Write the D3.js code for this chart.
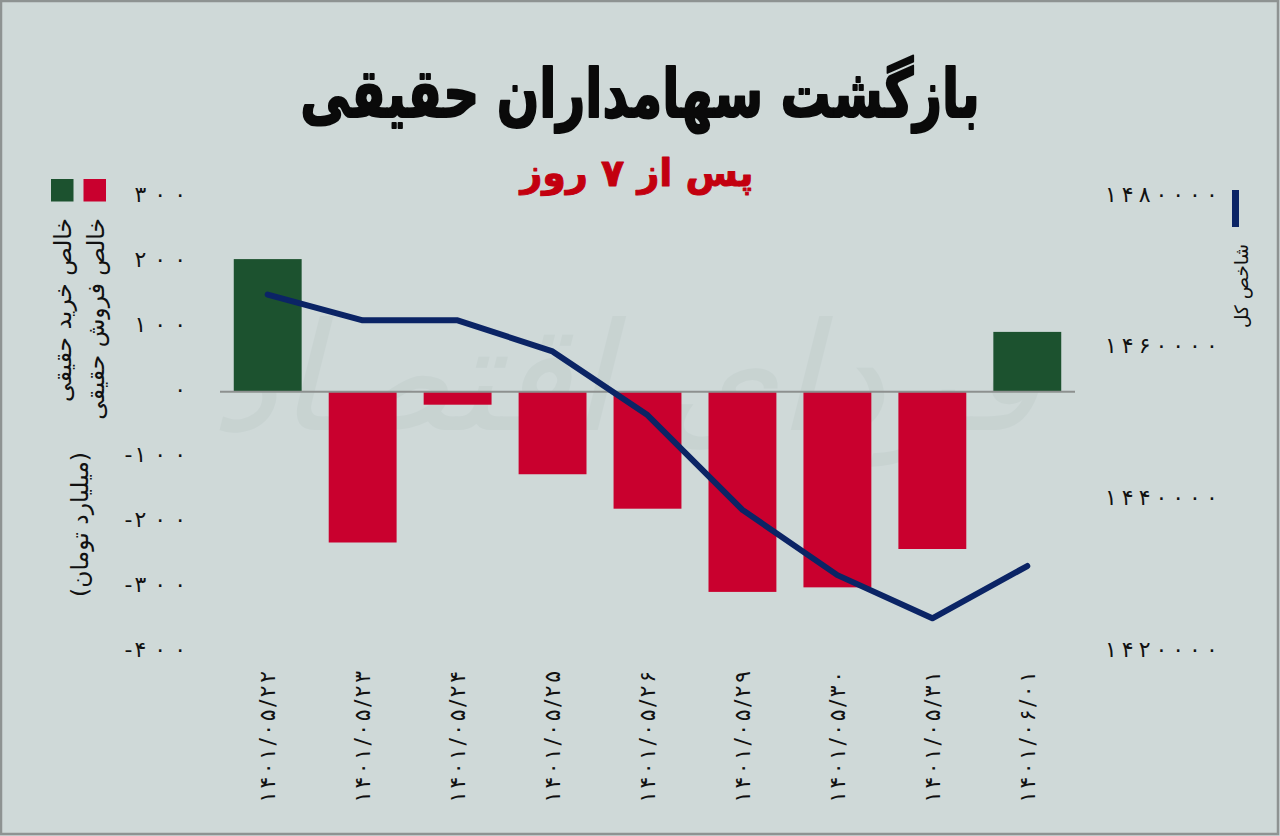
<!DOCTYPE html>
<html>
<head>
<meta charset="utf-8">
<script src="https://cdn.jsdelivr.net/npm/d3@7/dist/d3.min.js"></script>
<style>
  html, body { margin: 0; padding: 0; background: #cfd9d8; }
  svg { display: block; }
  text { font-family: "DejaVu Sans", "Noto Sans", sans-serif; }
</style>
</head>
<body>
<svg id="chart" width="1280" height="836"></svg>
<script>
// ---- data ----
const categories = ["۱۴۰۱/۰۵/۲۲","۱۴۰۱/۰۵/۲۳","۱۴۰۱/۰۵/۲۴","۱۴۰۱/۰۵/۲۵","۱۴۰۱/۰۵/۲۶","۱۴۰۱/۰۵/۲۹","۱۴۰۱/۰۵/۳۰","۱۴۰۱/۰۵/۳۱","۱۴۰۱/۰۶/۰۱"];
const netFlow = [204, -232, -20, -127, -180, -308, -301, -242, 92];            // billion toman
const indexValues = [1467100, 1463700, 1463700, 1459600, 1451200, 1438700, 1430100, 1424400, 1431300];
const leftTicks = [300, 200, 100, 0, -100, -200, -300, -400];
const rightTicks = [1480000, 1460000, 1440000, 1420000];
const titleText = "بازگشت سهامداران حقیقی";
const subtitleText = "پس از ۷ روز";
const legendBuy = "خالص خرید حقیقی";
const legendSell = "خالص فروش حقیقی";
const unitText = "(میلیارد تومان)";
const indexLabel = "شاخص کل";
const watermark = "فردای اقتصاد";

const fa = s => String(s).replace(/[0-9]/g, d => "۰۱۲۳۴۵۶۷۸۹"[+d]);

const W = 1280, H = 836;
const svg = d3.select("#chart");

// widen character spacing (letter-spacing is ignored for Arabic-script runs)
function spread(sel, gap) {
  sel.each(function () {
    const n = this.textContent.length;
    if (n < 2) return;
    const len = this.getComputedTextLength();
    d3.select(this).attr("textLength", len + (n - 1) * gap).attr("lengthAdjust", "spacing");
  });
}
// per-character offsets: tight after a minus sign, wide between digits
function spreadDx(sel, gap, minusGap) {
  sel.each(function () {
    const chars = Array.from(this.textContent);
    const dx = chars.map((c, i) => i === 0 ? 0 : (chars[i - 1] === "-" ? minusGap : gap));
    d3.select(this).attr("dx", dx.join(" "));
  });
}

// background + frame
svg.append("rect").attr("x", 0).attr("y", 0).attr("width", W).attr("height", H).attr("fill", "#cfd9d8");
svg.append("rect").attr("x", 1).attr("y", 1).attr("width", W - 3).attr("height", H - 3)
  .attr("fill", "none").attr("stroke", "#8e9392").attr("stroke-width", 2.5);

// watermark
svg.append("text").attr("x", 625).attr("y", 430).attr("text-anchor", "middle")
  .attr("font-size", 150).attr("fill", "#a9bab6").attr("opacity", 0.18)
  .attr("font-style", "italic").text(watermark);

// scales
const x = d3.scaleBand().domain(categories).range([220, 1075]).paddingInner(0.285).paddingOuter(0.145);
const yL = d3.scaleLinear().domain([-400, 300]).range([651.7, 196.7]);
const yR = d3.scaleLinear().domain([1420000, 1480000]).range([651.7, 196.7]);

// titles
svg.append("text").attr("transform", "translate(640,117) scale(1,1.35)").attr("text-anchor", "middle")
  .attr("font-size", 50).attr("font-weight", "bold").attr("fill", "#0a0a0a")
  .attr("stroke", "#0a0a0a").attr("stroke-width", 1.6).attr("stroke-linejoin", "round").text(titleText);
svg.append("text").attr("x", 637).attr("y", 186).attr("text-anchor", "middle")
  .attr("font-size", 38).attr("font-weight", "bold").attr("fill", "#c3000f")
  .attr("stroke", "#c3000f").attr("stroke-width", 1).attr("stroke-linejoin", "round").text(subtitleText);

// bars
svg.append("g").selectAll("rect").data(netFlow).join("rect")
  .attr("x", (d, i) => x(categories[i]))
  .attr("width", x.bandwidth())
  .attr("y", d => d >= 0 ? yL(d) : yL(0))
  .attr("height", d => Math.abs(yL(d) - yL(0)))
  .attr("fill", d => d >= 0 ? "#1c522f" : "#c9002e");

// zero line
svg.append("line").attr("x1", 220).attr("x2", 1075).attr("y1", yL(0)).attr("y2", yL(0))
  .attr("stroke", "#8d908f").attr("stroke-width", 2);

// index line
const line = d3.line().x((d, i) => x(categories[i]) + x.bandwidth() / 2).y(d => yR(d));
svg.append("path").datum(indexValues).attr("d", line)
  .attr("fill", "none").attr("stroke", "#0b2465").attr("stroke-width", 6)
  .attr("stroke-linecap", "round").attr("stroke-linejoin", "round");

// left axis
const gL = svg.append("g").attr("transform", "translate(186,0)")
  .call(d3.axisLeft(yL).tickValues(leftTicks).tickSize(0).tickPadding(0).tickFormat(d => fa(d)));
gL.select(".domain").remove();
gL.selectAll("text").attr("font-size", 22).attr("fill", "#111")
  .attr("dy", "0.2em").attr("font-family", "DejaVu Sans");
spreadDx(gL.selectAll("text"), 8, 2);

// right axis
const gR = svg.append("g").attr("transform", "translate(1105,0)")
  .call(d3.axisRight(yR).tickValues(rightTicks).tickSize(0).tickPadding(0).tickFormat(d => fa(d)));
gR.select(".domain").remove();
gR.selectAll("text").attr("font-size", 22).attr("fill", "#111")
  .attr("dy", "0.2em").attr("font-family", "DejaVu Sans");
spread(gR.selectAll("text"), 5);

// x labels
const gX = svg.append("g").attr("transform", "translate(0,671)")
  .call(d3.axisBottom(x).tickSize(0).tickPadding(0));
gX.select(".domain").remove();
gX.selectAll("text")
  .attr("font-size", 22).attr("fill", "#111").attr("font-family", "DejaVu Sans")
  .attr("text-anchor", "end").attr("transform", "rotate(-90)")
  .attr("x", 0).attr("y", 0).attr("dy", "0.35em").attr("direction", "ltr");
spread(gX.selectAll("text"), 2.5);

// legend (left)
svg.append("rect").attr("x", 51).attr("y", 179).attr("width", 22.5).attr("height", 22.5).attr("fill", "#1c522f");
svg.append("rect").attr("x", 83.5).attr("y", 179).attr("width", 22.5).attr("height", 22.5).attr("fill", "#c9002e");
function vtext(cx, top, str, size) {
  svg.append("text").attr("transform", `translate(${cx},${top}) rotate(-90)`)
    .attr("text-anchor", "end").attr("dy", "0.35em")
    .attr("font-size", size).attr("fill", "#111").text(str);
}
vtext(63, 218, legendBuy, 23.5);
vtext(96, 218, legendSell, 23.5);
vtext(80, 452, unitText, 23.5);

// legend (right)
svg.append("rect").attr("x", 1232).attr("y", 190).attr("width", 7).attr("height", 37).attr("fill", "#0b2465");
vtext(1242, 244, indexLabel, 18.5);
</script>
</body>
</html>
